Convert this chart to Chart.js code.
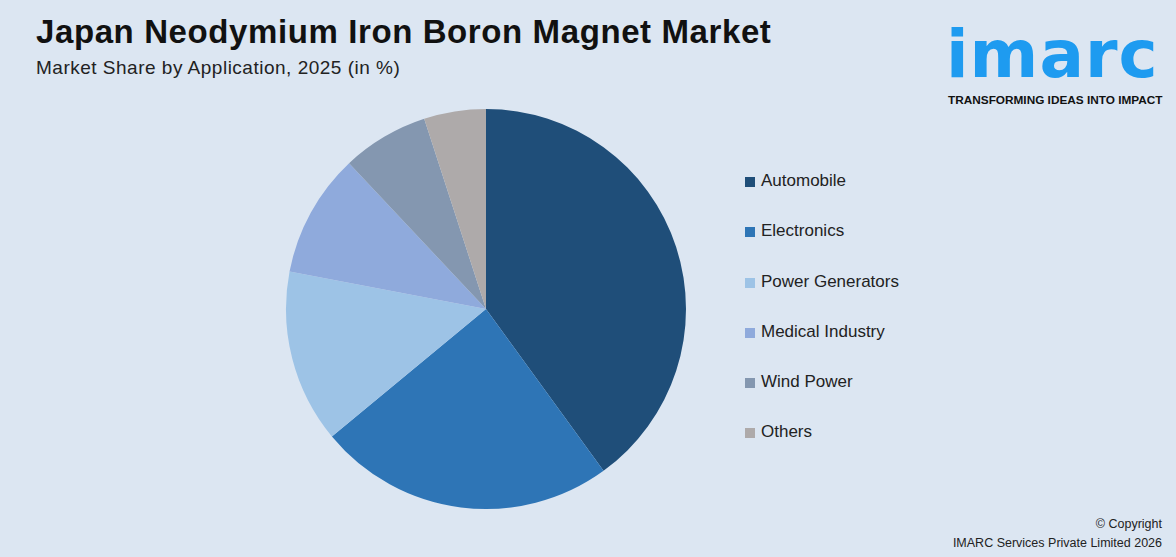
<!DOCTYPE html>
<html><head><meta charset="utf-8">
<script src="https://cdn.jsdelivr.net/npm/chart.js@4"></script>
<style>
body{margin:0;width:1176px;height:557px;background:#dce6f2;font-family:"Liberation Sans",Arial,sans-serif;position:relative;overflow:hidden}
#title{position:absolute;left:36px;top:13px;font-size:33px;font-weight:bold;color:#111;letter-spacing:0.6px}
#sub{position:absolute;left:36px;top:57px;font-size:19px;color:#222;letter-spacing:0.5px}
#pie{position:absolute;left:284px;top:107px;width:404px;height:404px}
#legend{position:absolute;left:745px;top:171px;font-size:17px;color:#222}
#legend div{height:50.3px;display:flex;align-items:flex-start}
#legend span{display:inline-block;width:10px;height:10px;margin:6px 6px 0 0}
#logo{position:absolute;left:946px;top:16px;color:#1e9bf0;font-size:66px;font-weight:bold;letter-spacing:1px;font-family:"DejaVu Sans",sans-serif}
#tag{position:absolute;left:948px;top:93px;font-size:11.8px;font-weight:bold;color:#111}
#copy{position:absolute;right:14px;top:515px;font-size:12.5px;color:#222;text-align:right;line-height:19px}
</style></head><body>
<div id="title">Japan Neodymium Iron Boron Magnet Market</div>
<div id="sub">Market Share by Application, 2025 (in %)</div>
<div id="logo">imarc</div>
<div id="tag">TRANSFORMING IDEAS INTO IMPACT</div>
<div id="pie"><canvas id="c"></canvas></div>
<div id="legend"></div>
<div id="copy">© Copyright<br>IMARC Services Private Limited 2026</div>
<script>
var categories = ["Automobile", "Electronics", "Power Generators", "Medical Industry", "Wind Power", "Others"];
var shares = [40, 24, 14, 10, 7, 5];
var colors = ["#1f4e79", "#2e75b6", "#9dc3e6", "#8faadc", "#8497b0", "#aeaaaa"];

var leg = document.getElementById("legend");
categories.forEach(function(name, i){
    var d = document.createElement("div");
    d.innerHTML = '<span style="background:' + colors[i] + '"></span>' + name;
    leg.appendChild(d);
});

new Chart(document.getElementById("c"), {
    type: "pie",
    data: {labels: categories, datasets: [{data: shares, backgroundColor: colors, borderWidth: 0}]},
    options: {
        responsive: true, maintainAspectRatio: false, animation: false,
        layout: {padding: 2},
        plugins: {legend: {display: false}, tooltip: {enabled: false}}
    }
});
</script>
</body></html>
